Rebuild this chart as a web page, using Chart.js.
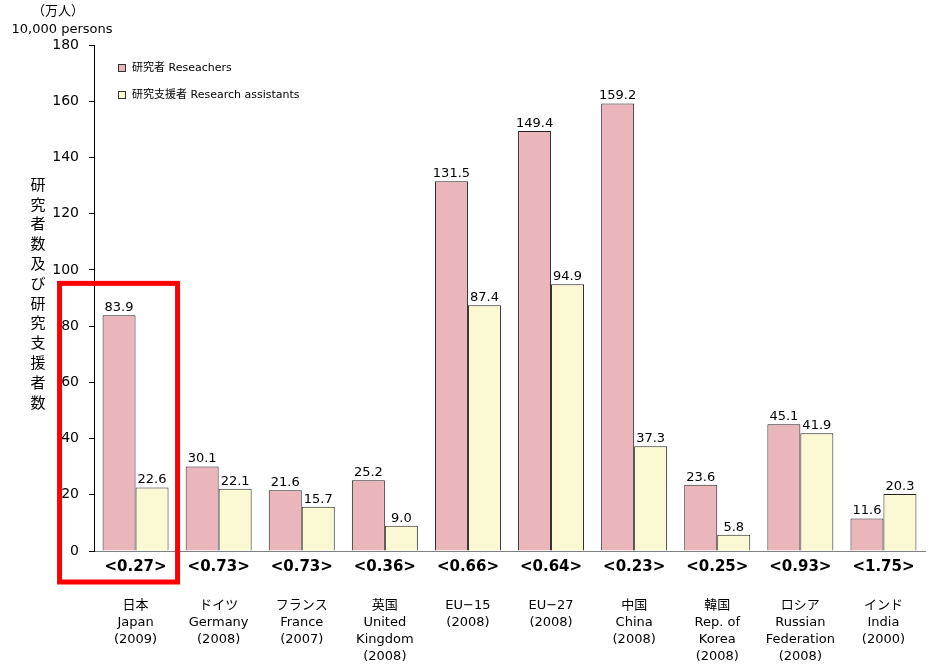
<!DOCTYPE html>
<html>
<head>
<meta charset="utf-8">
<script src="https://cdn.jsdelivr.net/npm/chart.js@4/dist/chart.umd.min.js"></script>
<style>
  html, body { margin: 0; padding: 0; background: #fff; }
  #wrap { width: 931px; height: 665px; }
</style>
</head>
<body>
<div id="wrap"><canvas id="chart" width="931" height="665"></canvas></div>
<script>
const countries = [
    ['日本', 'Japan', '(2009)'],
    ['ドイツ', 'Germany', '(2008)'],
    ['フランス', 'France', '(2007)'],
    ['英国', 'United', 'Kingdom', '(2008)'],
    ['EU−15', '(2008)'],
    ['EU−27', '(2008)'],
    ['中国', 'China', '(2008)'],
    ['韓国', 'Rep. of', 'Korea', '(2008)'],
    ['ロシア', 'Russian', 'Federation', '(2008)'],
    ['インド', 'India', '(2000)']
];
const researchers = [83.9, 30.1, 21.6, 25.2, 131.5, 149.4, 159.2, 23.6, 45.1, 11.6];
const assistants = [22.6, 22.1, 15.7, 9.0, 87.4, 94.9, 37.3, 5.8, 41.9, 20.3];
// assistants per researcher, shown in angle brackets under each group
const ratios = ['0.27', '0.73', '0.73', '0.36', '0.66', '0.64', '0.23', '0.25', '0.93', '1.75'];
const yTicks = [0, 20, 40, 60, 80, 100, 120, 140, 160, 180];

const FONT = '"DejaVu Sans", "Noto Sans CJK JP", sans-serif';
const PINK = '#ebb6bb';
const CREAM = '#fbf9d3';

const extras = {
    id: 'extras',
    afterDatasetsDraw(chart) {
        const ctx = chart.ctx;
        const x = chart.scales.x;
        const y = chart.scales.y;
        ctx.save();
        ctx.fillStyle = '#000';

        // value labels above each bar
        ctx.font = '13px ' + FONT;
        ctx.textAlign = 'center';
        ctx.textBaseline = 'bottom';
        chart.data.datasets.forEach((ds, i) => {
            chart.getDatasetMeta(i).data.forEach((bar, j) => {
                ctx.fillText(ds.data[j].toFixed(1), bar.x, bar.y - 1);
            });
        });

        // ratio row under the axis
        ctx.font = 'bold 15px ' + FONT;
        ctx.textBaseline = 'middle';
        ratios.forEach((r, i) => {
            ctx.fillText('<' + r + '>', x.getPixelForValue(i), y.getPixelForValue(0) + 16);
        });

        // vertical axis title, one character per line
        const title = '研究者数及び研究支援者数';
        ctx.font = '15px ' + FONT;
        for (let k = 0; k < title.length; k++) {
            ctx.fillText(title[k], 38, 186 + k * 19.8);
        }

        // unit label above the axis
        ctx.font = '13px ' + FONT;
        ctx.fillText('（万人）', 58, 12);
        ctx.fillText('10,000 persons', 62, 30);

        // legend
        ctx.font = '11px ' + FONT;
        ctx.textAlign = 'left';
        chart.data.datasets.forEach((ds, i) => {
            const ly = 68 + i * 27;
            ctx.fillStyle = ds.backgroundColor;
            ctx.fillRect(118, ly - 4, 8, 8);
            ctx.strokeStyle = '#333';
            ctx.lineWidth = 1;
            ctx.strokeRect(118.5, ly - 3.5, 7, 7);
            ctx.fillStyle = '#000';
            ctx.fillText(ds.label, 132, ly);
        });

        // highlight box around the Japan group
        const cx = x.getPixelForValue(0);
        ctx.strokeStyle = '#ff0000';
        ctx.lineWidth = 5;
        ctx.strokeRect(cx - 76, y.getPixelForValue(95.2), 118, y.getPixelForValue(0) + 31 - y.getPixelForValue(95.2));
        ctx.restore();
    }
};

new Chart(document.getElementById('chart'), {
    type: 'bar',
    data: {
        labels: countries,
        datasets: [{
            label: '研究者 Reseachers',
            data: researchers,
            backgroundColor: PINK,
            borderColor: '#222',
            borderWidth: 1
        }, {
            label: '研究支援者 Research assistants',
            data: assistants,
            backgroundColor: CREAM,
            borderColor: '#222',
            borderWidth: 1
        }]
    },
    options: {
        responsive: false,
        animation: false,
        devicePixelRatio: 1,
        layout: { padding: { top: 45, right: 6, left: 0, bottom: 0 } },
        datasets: {
            bar: { barPercentage: 1, categoryPercentage: 0.794 }
        },
        plugins: {
            legend: { display: false },
            tooltip: { enabled: false }
        },
        scales: {
            x: {
                grid: { display: true, drawOnChartArea: false, drawTicks: false },
                border: { display: true, color: '#808080', width: 1 },
                ticks: {
                    color: '#000',
                    font: { family: FONT, size: 13, lineHeight: 1.3 },
                    padding: 46,
                    maxRotation: 0,
                    autoSkip: false
                },
                afterFit(scale) {
                    scale.height = 114;
                    scale.paddingLeft = 0;
                    scale.paddingRight = 0;
                }
            },
            y: {
                min: 0,
                max: 180,
                afterBuildTicks(scale) { scale.ticks = yTicks.map(v => ({ value: v })); },
                grid: { drawOnChartArea: false, tickLength: 5, color: '#000' },
                border: { display: true, color: '#000', width: 1 },
                ticks: {
                    color: '#000',
                    font: { family: FONT, size: 14 },
                    padding: 10
                },
                afterFit(scale) { scale.width = 94; }
            }
        }
    },
    plugins: [extras]
});
</script>
</body>
</html>
